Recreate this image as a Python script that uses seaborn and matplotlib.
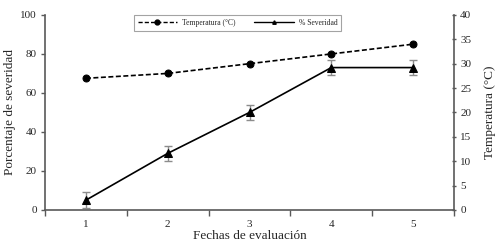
import matplotlib
matplotlib.use('Agg')
import matplotlib.pyplot as plt
import seaborn as sns
import numpy as np
import pandas as pd
from matplotlib.lines import Line2D

# data
fechas = [1, 2, 3, 4, 5]
severidad = [5, 29, 50, 73, 73]
severidad_err = [4, 4, 4, 4, 4]
temperatura = [27, 28, 30, 32, 34]

sns.set_theme(style='ticks')
plt.rcParams['font.family'] = ['Liberation Serif', 'DejaVu Serif']

df = pd.DataFrame({'fecha': fechas, 'severidad': severidad, 'temperatura': temperatura})

fig, ax = plt.subplots(figsize=(5.0, 2.49), dpi=100)
fig.subplots_adjust(left=0.09, right=0.908, bottom=0.157, top=0.94)
ax2 = ax.twinx()

spine_col = '#595959'

# severity (left axis)
ax.errorbar(fechas, severidad, yerr=severidad_err, fmt='none', ecolor='#8c8c8c',
            elinewidth=1.0, capsize=3, capthick=1.0, zorder=2)
sns.lineplot(data=df, x='fecha', y='severidad', ax=ax, color='black', linewidth=1.2,
             marker='^', markersize=6, markeredgecolor='black', zorder=3)

# temperature (right axis)
sns.lineplot(data=df, x='fecha', y='temperatura', ax=ax2, color='black', linewidth=1.2,
             linestyle=(0, (3, 1.5)), marker='o', markersize=5, markeredgecolor='black')

ax.set_xlim(0.5, 5.5)
ax.set_ylim(0, 100)
ax2.set_ylim(0, 40)
ax.set_yticks(np.arange(0, 101, 20))
ax2.set_yticks(np.arange(0, 41, 5))

# category labels centred, tick marks between categories
ax.set_xticks(fechas)
ax.set_xticklabels([str(f) for f in fechas])
ax.set_xticks(np.arange(0.5, 6, 1), minor=True)
ax.tick_params(axis='x', which='major', length=0, pad=7, labelsize=8)
ax.tick_params(axis='x', which='minor', length=4, direction='out', color=spine_col, width=1)

ax.tick_params(axis='y', labelsize=8, length=3, color=spine_col, width=1, pad=3)
ax2.tick_params(axis='y', labelsize=8, length=3, color=spine_col, width=1, direction='inout', pad=3)

ax.set_xlabel('Fechas de evaluación', fontsize=9.5, labelpad=1)
ax.set_ylabel('Porcentaje de severidad', fontsize=9.5, labelpad=3)
ax2.set_ylabel('Temperatura (°C)', fontsize=9.5, labelpad=9)

for a in (ax, ax2):
    a.spines['top'].set_visible(False)
    for s in ('left', 'right', 'bottom'):
        a.spines[s].set_color(spine_col)
        a.spines[s].set_linewidth(1.2)
ax.spines['right'].set_visible(False)
ax2.spines['left'].set_visible(False)
ax2.spines['bottom'].set_visible(False)

# legend
handles = [
    Line2D([], [], color='black', linestyle=(0, (3, 1.5)), linewidth=1, marker='o', markersize=3.5),
    Line2D([], [], color='black', linestyle='-', linewidth=1, marker='^', markersize=2.5),
]
leg = fig.legend(handles, ['Temperatura (°C)', '% Severidad'], ncol=2, fontsize=5.5,
                 loc='center', bbox_to_anchor=(0.475, 0.908), frameon=True, fancybox=False,
                 edgecolor='#8c8c8c', handlelength=5.2, columnspacing=2.5, borderpad=0.5,
                 handletextpad=0.6)
leg.get_frame().set_linewidth(0.8)

fig.savefig('out.png', dpi=100)
